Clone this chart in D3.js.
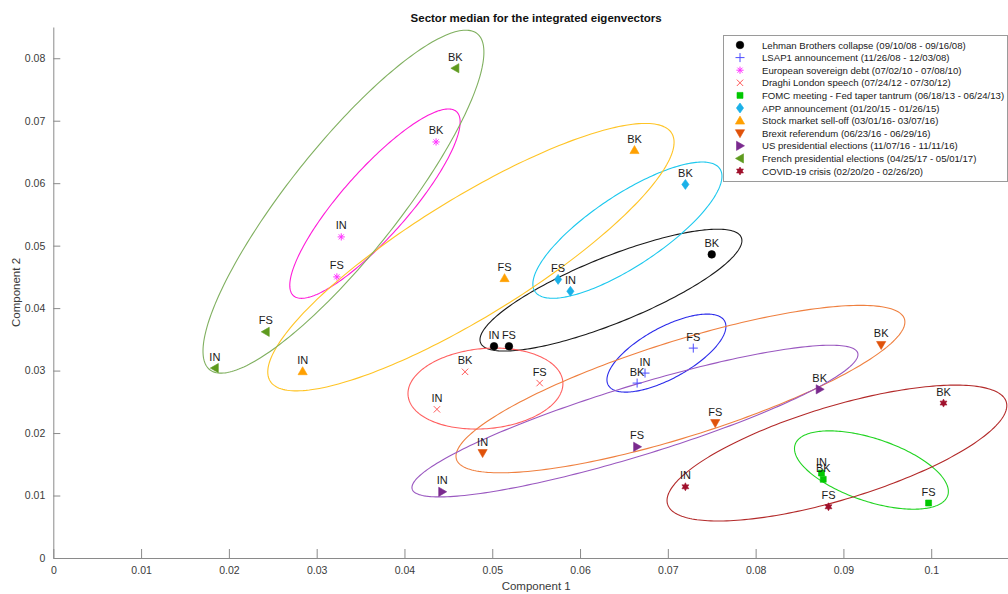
<!DOCTYPE html>
<html>
<head>
<meta charset="utf-8">
<script src="https://cdn.jsdelivr.net/npm/d3@7"></script>
<style>
  html, body { margin: 0; padding: 0; background: #fff; }
  svg { display: block; font-family: "Liberation Sans", Arial, Helvetica, sans-serif; }
</style>
</head>
<body>
<svg id="chart" width="1008" height="594"></svg>
<script>
// Crisis events (legend order)
const eventNames = [
  "Lehman Brothers collapse (09/10/08 - 09/16/08)",
  "LSAP1 announcement (11/26/08 - 12/03/08)",
  "European sovereign debt (07/02/10 - 07/08/10)",
  "Draghi London speech (07/24/12 - 07/30/12)",
  "FOMC meeting - Fed taper tantrum (06/18/13 - 06/24/13)",
  "APP announcement (01/20/15 - 01/26/15)",
  "Stock market sell-off (03/01/16- 03/07/16)",
  "Brexit referendum (06/23/16 - 06/29/16)",
  "US presidential elections (11/07/16 - 11/11/16)",
  "French presidential elections (04/25/17 - 05/01/17)",
  "COVID-19 crisis (02/20/20 - 02/26/20)"
];

// Sectors: industrials, financial services, banks
const sectorLabels = ["IN", "FS", "BK"];

// Sector medians, component 1 (one row per event: IN, FS, BK)
const component1 = [
  [0.0502, 0.0519, 0.0750],
  [0.0674, 0.0729, 0.0665],
  [0.0328, 0.0323, 0.0436],
  [0.0437, 0.0554, 0.0469],
  [0.0875, 0.0997, 0.0877],
  [0.0589, 0.0575, 0.0720],
  [0.0284, 0.0514, 0.0662],
  [0.0489, 0.0754, 0.0943],
  [0.0443, 0.0665, 0.0873],
  [0.0184, 0.0242, 0.0458],
  [0.0720, 0.0883, 0.1014]
];

// Sector medians, component 2 (one row per event: IN, FS, BK)
const component2 = [
  [0.0339, 0.0339, 0.0486],
  [0.0296, 0.0336, 0.0280],
  [0.0514, 0.0450, 0.0666],
  [0.0238, 0.0280, 0.0298],
  [0.0136, 0.0088, 0.0126],
  [0.0427, 0.0446, 0.0598],
  [0.0299, 0.0448, 0.0653],
  [0.0168, 0.0216, 0.0341],
  [0.0106, 0.0178, 0.0270],
  [0.0304, 0.0362, 0.0784],
  [0.0114, 0.0082, 0.0248]
];

// Ellipse around each event: major-axis endpoints [c1, c2] and minor/major ratio
const ellipseFrom = [
  [0.04867, 0.03445], [0.06321, 0.02768], [0.02736, 0.04198], [0.04041, 0.02603],
  [0.08450, 0.01816], [0.05486, 0.04266], [0.02470, 0.02832], [0.04592, 0.01581],
  [0.04088, 0.01102], [0.01782, 0.03014], [0.06997, 0.00861]
];
const ellipseTo = [
  [0.07837, 0.05131], [0.07647, 0.03792], [0.04592, 0.07146], [0.05804, 0.02821],
  [0.10188, 0.01000], [0.07593, 0.06230], [0.07044, 0.06800], [0.09695, 0.03827],
  [0.09163, 0.03282], [0.04828, 0.08394], [0.10855, 0.02499]
];
const ellipseRatio = [0.235, 0.384, 0.27, 0.516, 0.39, 0.32, 0.25, 0.204, 0.15, 0.256, 0.264];

// Axis ticks
const xTicks = [0, 0.01, 0.02, 0.03, 0.04, 0.05, 0.06, 0.07, 0.08, 0.09, 0.1];
const yTicks = [0, 0.01, 0.02, 0.03, 0.04, 0.05, 0.06, 0.07, 0.08];

// Styling per event
const markerShapes = ["circle", "plus", "asterisk", "times", "square", "diamond",
                      "triUp", "triDown", "triRight", "triLeft", "hexagram"];
const markerColors = ["#000000", "#4d4dff", "#ff33ff", "#ff5a5a", "#00c800", "#1ab0e8",
                      "#ffa000", "#e0520a", "#7a2a8e", "#5e9a1e", "#a0102c"];
const ellipseColors = ["#1a1a1a", "#2b2bea", "#ff1ad9", "#ff6060", "#22d422", "#1cc8ee",
                       "#ffc425", "#ef8040", "#9a58c0", "#80b060", "#b32a2a"];

const svg = d3.select("#chart");
const plot = { left: 53.3, right: 1019, top: 27, bottom: 558 };

const x = d3.scaleLinear().domain([0, 0.11]).range([plot.left, plot.right]);
const y = d3.scaleLinear().domain([0, 0.085]).range([plot.bottom, plot.top]);

// Marker glyphs centred on the origin
function markerPath(shape) {
  const p = d3.path();
  switch (shape) {
    case "circle": p.arc(0, 0, 3.8, 0, 2 * Math.PI); break;
    case "plus": p.moveTo(-4.5, 0); p.lineTo(4.5, 0); p.moveTo(0, -4.5); p.lineTo(0, 4.5); break;
    case "times": p.moveTo(-3.2, -3.2); p.lineTo(3.2, 3.2); p.moveTo(-3.2, 3.2); p.lineTo(3.2, -3.2); break;
    case "asterisk":
      for (let k = 0; k < 4; k++) {
        const a = k * Math.PI / 4, r = 3.6;
        p.moveTo(-r * Math.cos(a), -r * Math.sin(a)); p.lineTo(r * Math.cos(a), r * Math.sin(a));
      }
      break;
    case "square": p.rect(-3, -3, 6, 6); break;
    case "diamond": p.moveTo(0, -5); p.lineTo(3.6, 0); p.lineTo(0, 5); p.lineTo(-3.6, 0); p.closePath(); break;
    case "triUp": p.moveTo(0, -4.5); p.lineTo(4.6, 3.5); p.lineTo(-4.6, 3.5); p.closePath(); break;
    case "triDown": p.moveTo(0, 4.5); p.lineTo(4.6, -3.5); p.lineTo(-4.6, -3.5); p.closePath(); break;
    case "triRight": p.moveTo(4.5, 0); p.lineTo(-3.5, 4.6); p.lineTo(-3.5, -4.6); p.closePath(); break;
    case "triLeft": p.moveTo(-4.5, 0); p.lineTo(3.5, 4.6); p.lineTo(3.5, -4.6); p.closePath(); break;
    case "hexagram":
      for (let k = 0; k < 12; k++) {
        const a = -Math.PI / 2 + k * Math.PI / 6, r = k % 2 === 0 ? 4 : 2.2;
        if (k === 0) p.moveTo(r * Math.cos(a), r * Math.sin(a)); else p.lineTo(r * Math.cos(a), r * Math.sin(a));
      }
      p.closePath();
      break;
  }
  return p.toString();
}
const stroked = new Set(["plus", "times", "asterisk"]);

function styleMarker(sel, i) {
  const shape = markerShapes[i];
  sel.attr("d", markerPath(shape))
    .attr("fill", stroked.has(shape) ? "none" : markerColors[i])
    .attr("stroke", markerColors[i])
    .attr("stroke-width", stroked.has(shape) ? 1 : 0.6);
}

// Axes
const xAxis = d3.axisBottom(x).tickValues(xTicks).tickSize(0).tickPadding(9)
  .tickFormat(d => d3.format("~g")(d));
const yAxis = d3.axisLeft(y).tickValues(yTicks).tickSize(0).tickPadding(8)
  .tickFormat(d => d3.format("~g")(d));

const gx = svg.append("g").attr("transform", `translate(0,${plot.bottom})`).call(xAxis);
const gy = svg.append("g").attr("transform", `translate(${plot.left},0)`).call(yAxis);
[gx, gy].forEach(g => {
  g.select(".domain").attr("stroke", "#8a8a8a").attr("stroke-width", 1);
  g.selectAll("text").attr("fill", "#3a3a3a").style("font-size", "10.5px")
    .style("font-family", "'Liberation Sans', Arial, sans-serif");
});
// inward tick marks
gx.selectAll(".tick").append("line").attr("y1", 0).attr("y2", -9).attr("stroke", "#8a8a8a");
gy.selectAll(".tick").append("line").attr("x1", 0).attr("x2", 7).attr("stroke", "#8a8a8a");

// Axis titles and chart title
svg.append("text").attr("x", (plot.left + plot.right) / 2).attr("y", 590)
  .attr("text-anchor", "middle").attr("fill", "#3a3a3a").style("font-size", "11.5px").text("Component 1");
svg.append("text").attr("transform", `translate(20,${(plot.top + plot.bottom) / 2}) rotate(-90)`)
  .attr("text-anchor", "middle").attr("fill", "#3a3a3a").style("font-size", "11.5px").text("Component 2");
svg.append("text").attr("x", (plot.left + plot.right) / 2).attr("y", 22)
  .attr("text-anchor", "middle").attr("fill", "#111").style("font-size", "11.5px")
  .style("font-weight", "bold").text("Sector median for the integrated eigenvectors");

// Ellipses
const ellipseLine = d3.line().curve(d3.curveLinearClosed);
const ellipseLayer = svg.append("g");
eventNames.forEach((_, i) => {
  const x1 = x(ellipseFrom[i][0]), y1 = y(ellipseFrom[i][1]);
  const x2 = x(ellipseTo[i][0]), y2 = y(ellipseTo[i][1]);
  const cx = (x1 + x2) / 2, cy = (y1 + y2) / 2;
  const a = Math.hypot(x2 - x1, y2 - y1) / 2, b = a * ellipseRatio[i];
  const th = Math.atan2(y2 - y1, x2 - x1);
  const pts = d3.range(0, 2 * Math.PI, Math.PI / 120).map(t => [
    cx + a * Math.cos(t) * Math.cos(th) - b * Math.sin(t) * Math.sin(th),
    cy + a * Math.cos(t) * Math.sin(th) + b * Math.sin(t) * Math.cos(th)
  ]);
  ellipseLayer.append("path").attr("d", ellipseLine(pts))
    .attr("fill", "none").attr("stroke", ellipseColors[i]).attr("stroke-width", 1.1);
});

// Points and sector labels
const pointLayer = svg.append("g");
const labelLayer = svg.append("g");
eventNames.forEach((_, i) => {
  sectorLabels.forEach((lab, j) => {
    const px = x(component1[i][j]), py = y(component2[i][j]);
    pointLayer.append("path").attr("transform", `translate(${px},${py})`).call(styleMarker, i);
    labelLayer.append("text").attr("x", px).attr("y", py - 7.5)
      .attr("text-anchor", "middle").attr("fill", "#1a1a1a").style("font-size", "11px").text(lab);
  });
});

// Legend
const legend = svg.append("g");
const lg = { x: 723, y: 35, w: 284, rowH: 12.6 };
legend.append("rect").attr("x", lg.x + 0.5).attr("y", lg.y + 0.5)
  .attr("width", lg.w).attr("height", 12 + lg.rowH * (eventNames.length - 1) + 8)
  .attr("fill", "#fff").attr("stroke", "#9a9a9a").attr("stroke-width", 1);
eventNames.forEach((name, i) => {
  const ry = lg.y + 10 + i * lg.rowH;
  legend.append("path").attr("transform", `translate(${lg.x + 17},${ry})`).call(styleMarker, i);
  legend.append("text").attr("x", lg.x + 39).attr("y", ry + 3.5)
    .attr("fill", "#1a1a1a").style("font-size", "9.6px").text(name);
});
</script>
</body>
</html>
